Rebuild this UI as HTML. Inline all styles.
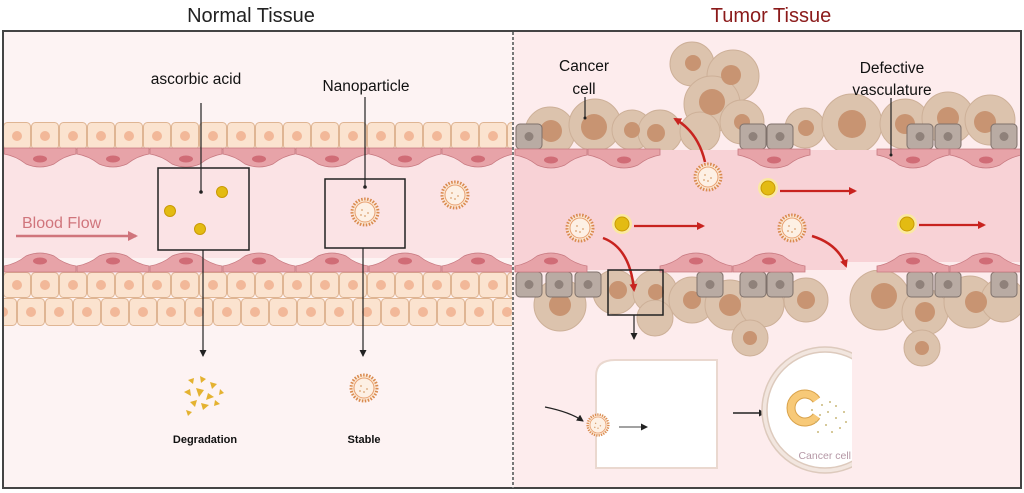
<!DOCTYPE html>
<html><head><meta charset="utf-8"><style>
html,body{margin:0;padding:0;background:#fff;}
svg{display:block;font-family:"Liberation Sans",sans-serif;}
</style></head><body>
<svg width="1024" height="493" viewBox="0 0 1024 493" xmlns="http://www.w3.org/2000/svg">
<defs>
<pattern id="cellA" x="3" y="122" width="28" height="28" patternUnits="userSpaceOnUse">
<rect x="0.5" y="0.5" width="27" height="27" rx="4" fill="#fbe3cf" stroke="#dfb593" stroke-width="1"/>
<circle cx="14" cy="14" r="5" fill="#f2b899"/></pattern>
<pattern id="cellB" x="-11" y="298" width="28" height="28" patternUnits="userSpaceOnUse">
<rect x="0.5" y="0.5" width="27" height="27" rx="4" fill="#fbe3cf" stroke="#dfb593" stroke-width="1"/>
<circle cx="14" cy="14" r="5" fill="#f2b899"/></pattern>
<pattern id="cellC" x="3" y="272" width="28" height="26" patternUnits="userSpaceOnUse">
<rect x="0.5" y="0.5" width="27" height="25" rx="4" fill="#fbe3cf" stroke="#dfb593" stroke-width="1"/>
<circle cx="14" cy="13" r="5" fill="#f2b899"/></pattern>
<g id="endoT"><path d="M0 0 H72 V6 Q60 8 50 16 Q36 22 22 16 Q12 8 0 6 Z" fill="#e7a3a8" stroke="#c77980" stroke-width="0.8"/><ellipse cx="36" cy="11" rx="7" ry="3.5" fill="#d06c76"/></g>
<g id="endoB"><path d="M0 20 H72 V14 Q60 12 50 4 Q36 -2 22 4 Q12 12 0 14 Z" fill="#e7a3a8" stroke="#c77980" stroke-width="0.8"/><ellipse cx="36" cy="9" rx="7" ry="3.5" fill="#d06c76"/></g>
<g id="np"><circle r="13" fill="#fbe6d2" stroke="#d98a4e" stroke-width="3" stroke-dasharray="1.5 1.5"/><circle r="10" fill="#fdf0e4" stroke="#e8a070" stroke-width="1"/><circle cx="-3" cy="-2" r="0.9" fill="#d9a070"/><circle cx="3" cy="1" r="0.9" fill="#d9a070"/><circle cx="0" cy="4" r="0.9" fill="#d9a070"/><circle cx="-4" cy="3" r="0.9" fill="#d9a070"/></g>
<g id="yb"><circle r="10" fill="#fbe9a0"/><circle r="7" fill="#e3bb12" stroke="#c99a06"/></g>
<g id="gc"><rect x="0" y="0" width="26" height="25" rx="4" fill="#b9aba3" stroke="#7e716b"/><circle cx="13" cy="12.5" r="4.5" fill="#8f817a"/></g>
<marker id="ra" markerWidth="8" markerHeight="8" refX="6" refY="4" orient="auto" markerUnits="userSpaceOnUse"><path d="M0 0 L8 4 L0 8 Z" fill="#c8231f"/></marker>
<marker id="ka" markerWidth="7" markerHeight="7" refX="6" refY="3.5" orient="auto" markerUnits="userSpaceOnUse"><path d="M0 0 L7 3.5 L0 7 Z" fill="#222"/></marker>
<marker id="pa" markerWidth="10" markerHeight="10" refX="8" refY="5" orient="auto" markerUnits="userSpaceOnUse"><path d="M0 0 L10 5 L0 10 Z" fill="#d0757c"/></marker>
<clipPath id="rc"><rect x="514" y="32" width="506" height="456"/></clipPath>
<clipPath id="lc"><rect x="4" y="32" width="508" height="456"/></clipPath>
<clipPath id="ic"><rect x="740" y="340" width="112" height="140"/></clipPath>
</defs>

<text x="251" y="22" font-size="20" text-anchor="middle" fill="#222">Normal Tissue</text>
<text x="771" y="22" font-size="20" text-anchor="middle" fill="#8b1a1a">Tumor Tissue</text>

<rect x="3" y="31" width="1018" height="457" fill="#fdf3f3" stroke="#444" stroke-width="2"/>
<rect x="514" y="32" width="506" height="455" fill="#fdeced"/>

<g clip-path="url(#lc)">
<rect x="4" y="150" width="508" height="108" fill="#fbe3e5"/>
<rect x="3" y="122" width="510" height="28" fill="url(#cellA)"/>
<rect x="3" y="272" width="510" height="26" fill="url(#cellC)"/>
<rect x="3" y="298" width="510" height="28" fill="url(#cellB)"/>
<use href="#endoT" x="4" y="148"/><use href="#endoT" x="77" y="148"/><use href="#endoT" x="150" y="148"/><use href="#endoT" x="223" y="148"/><use href="#endoT" x="296" y="148"/><use href="#endoT" x="369" y="148"/><use href="#endoT" x="442" y="148"/>
<use href="#endoB" x="4" y="252"/><use href="#endoB" x="77" y="252"/><use href="#endoB" x="150" y="252"/><use href="#endoB" x="223" y="252"/><use href="#endoB" x="296" y="252"/><use href="#endoB" x="369" y="252"/><use href="#endoB" x="442" y="252"/>
</g>
<text x="22" y="228" font-size="16" fill="#d0757c">Blood Flow</text>
<line x1="16" y1="236" x2="136" y2="236" stroke="#d0757c" stroke-width="2.5" marker-end="url(#pa)"/>

<rect x="158" y="168" width="91" height="82" fill="none" stroke="#222" stroke-width="1.5"/>
<rect x="325" y="179" width="80" height="69" fill="none" stroke="#222" stroke-width="1.5"/>
<circle cx="170" cy="211" r="5.5" fill="#e3bb12" stroke="#c99a06"/>
<circle cx="222" cy="192" r="5.5" fill="#e3bb12" stroke="#c99a06"/>
<circle cx="200" cy="229" r="5.5" fill="#e3bb12" stroke="#c99a06"/>
<use href="#np" x="365" y="212"/><use href="#np" x="455" y="195"/>

<text x="196" y="84" font-size="15.5" text-anchor="middle" fill="#111">ascorbic acid</text>
<text x="366" y="91" font-size="15.5" text-anchor="middle" fill="#111">Nanoparticle</text>
<line x1="201" y1="103" x2="201" y2="192" stroke="#222" stroke-width="1.2"/><circle cx="201" cy="192" r="1.8" fill="#222"/>
<line x1="365" y1="97" x2="365" y2="187" stroke="#222" stroke-width="1.2"/><circle cx="365" cy="187" r="1.8" fill="#222"/>
<line x1="203" y1="250" x2="203" y2="356" stroke="#222" stroke-width="1.2" marker-end="url(#ka)"/>
<line x1="363" y1="248" x2="363" y2="356" stroke="#222" stroke-width="1.2" marker-end="url(#ka)"/>

<g fill="#e4b230">
<polygon points="188,380 194,378 193,384"/><polygon points="200,376 206,379 201,383"/><polygon points="210,382 217,384 212,389"/>
<polygon points="184,392 190,389 191,396"/><polygon points="196,388 204,390 199,397"/><polygon points="208,393 214,397 206,400"/>
<polygon points="190,402 197,400 195,407"/><polygon points="201,403 209,405 203,410"/><polygon points="215,400 220,404 214,406"/>
<polygon points="186,410 192,412 188,416"/><polygon points="220,389 224,393 219,395"/>
</g>
<use href="#np" x="364" y="388"/>
<text x="205" y="443" font-size="11" text-anchor="middle" fill="#111" font-weight="bold">Degradation</text>
<text x="364" y="443" font-size="11" text-anchor="middle" fill="#111" font-weight="bold">Stable</text>

<line x1="513" y1="32" x2="513" y2="488" stroke="#777" stroke-width="2" stroke-dasharray="3 2"/>

<g clip-path="url(#rc)">
<g fill="#dcc3ad" stroke="#cdb098" stroke-width="1">
<circle cx="550" cy="132" r="25"/><circle cx="595" cy="125" r="26"/><circle cx="632" cy="130" r="20"/><circle cx="660" cy="132" r="22"/>
<circle cx="692" cy="64" r="22"/><circle cx="733" cy="76" r="26"/><circle cx="712" cy="104" r="28"/><circle cx="742" cy="122" r="22"/><circle cx="700" cy="132" r="20"/>
<circle cx="805" cy="128" r="20"/><circle cx="852" cy="124" r="30"/><circle cx="905" cy="124" r="25"/><circle cx="948" cy="118" r="26"/><circle cx="990" cy="120" r="25"/>
<circle cx="560" cy="305" r="26"/><circle cx="615" cy="292" r="22"/><circle cx="655" cy="292" r="22"/><circle cx="692" cy="300" r="23"/><circle cx="730" cy="305" r="25"/><circle cx="762" cy="305" r="22"/><circle cx="806" cy="300" r="22"/><circle cx="750" cy="338" r="18"/><circle cx="655" cy="318" r="18"/>
<circle cx="880" cy="300" r="30"/><circle cx="925" cy="312" r="23"/><circle cx="970" cy="302" r="26"/><circle cx="1003" cy="300" r="22"/><circle cx="922" cy="348" r="18"/>
</g>
<g fill="#c89472">
<circle cx="551" cy="131" r="11"/><circle cx="594" cy="127" r="13"/><circle cx="632" cy="130" r="8"/><circle cx="656" cy="133" r="9"/>
<circle cx="693" cy="63" r="8"/><circle cx="731" cy="75" r="10"/><circle cx="712" cy="102" r="13"/><circle cx="742" cy="122" r="8"/>
<circle cx="806" cy="128" r="8"/><circle cx="852" cy="124" r="14"/><circle cx="905" cy="124" r="10"/><circle cx="948" cy="118" r="11"/><circle cx="985" cy="122" r="11"/>
<circle cx="560" cy="305" r="11"/><circle cx="618" cy="290" r="9"/><circle cx="656" cy="292" r="8"/><circle cx="692" cy="300" r="9"/><circle cx="730" cy="305" r="11"/><circle cx="806" cy="300" r="9"/><circle cx="750" cy="338" r="7"/>
<circle cx="884" cy="296" r="13"/><circle cx="925" cy="312" r="10"/><circle cx="976" cy="302" r="11"/><circle cx="922" cy="348" r="7"/>
</g>
<rect x="514" y="150" width="508" height="120" fill="#f8d2d6"/>
<rect x="846" y="262" width="176" height="8" fill="#fdeced"/>
<use href="#gc" x="516" y="124"/><use href="#gc" x="740" y="124"/><use href="#gc" x="767" y="124"/><use href="#gc" x="907" y="124"/><use href="#gc" x="935" y="124"/><use href="#gc" x="991" y="124"/>
<use href="#gc" x="516" y="272"/><use href="#gc" x="546" y="272"/><use href="#gc" x="575" y="272"/><use href="#gc" x="697" y="272"/><use href="#gc" x="740" y="272"/><use href="#gc" x="767" y="272"/><use href="#gc" x="907" y="272"/><use href="#gc" x="935" y="272"/><use href="#gc" x="991" y="272"/>
<use href="#endoT" x="515" y="149"/><use href="#endoT" x="588" y="149"/><use href="#endoT" x="738" y="149"/><use href="#endoT" x="877" y="149"/><use href="#endoT" x="950" y="149"/>
<use href="#endoB" x="515" y="252"/><use href="#endoB" x="660" y="252"/><use href="#endoB" x="733" y="252"/><use href="#endoB" x="877" y="252"/><use href="#endoB" x="950" y="252"/>
</g>

<use href="#np" x="708" y="177"/><use href="#np" x="580" y="228"/><use href="#np" x="792" y="228"/>
<use href="#yb" x="768" y="188"/><use href="#yb" x="622" y="224"/><use href="#yb" x="907" y="224"/>
<line x1="780" y1="191" x2="855" y2="191" stroke="#c8231f" stroke-width="2.2" marker-end="url(#ra)"/>
<line x1="634" y1="226" x2="703" y2="226" stroke="#c8231f" stroke-width="2.2" marker-end="url(#ra)"/>
<line x1="919" y1="225" x2="984" y2="225" stroke="#c8231f" stroke-width="2.2" marker-end="url(#ra)"/>
<path d="M705 162 Q698 132 675 119" fill="none" stroke="#c8231f" stroke-width="2.5" marker-end="url(#ra)"/>
<path d="M603 238 Q630 248 634 290" fill="none" stroke="#c8231f" stroke-width="2.5" marker-end="url(#ra)"/>
<path d="M812 236 Q838 244 846 266" fill="none" stroke="#c8231f" stroke-width="2.5" marker-end="url(#ra)"/>
<rect x="608" y="270" width="55" height="45" fill="none" stroke="#222" stroke-width="1.5"/>
<line x1="634" y1="315" x2="634" y2="339" stroke="#222" stroke-width="1.2" marker-end="url(#ka)"/>

<text x="584" y="71" font-size="15.5" text-anchor="middle" fill="#111">Cancer</text>
<text x="584" y="94" font-size="15.5" text-anchor="middle" fill="#111">cell</text>
<line x1="585" y1="97" x2="585" y2="118" stroke="#222" stroke-width="1.2"/><circle cx="585" cy="118" r="1.5" fill="#222"/>
<text x="892" y="73" font-size="15.5" text-anchor="middle" fill="#111">Defective</text>
<text x="892" y="95" font-size="15.5" text-anchor="middle" fill="#111">vasculature</text>
<line x1="891" y1="98" x2="891" y2="155" stroke="#222" stroke-width="1.2"/><circle cx="891" cy="155" r="1.5" fill="#222"/>

<path d="M615 360 H717 V468 H596 V437 Q596 428 604 424 Q596 420 596 412 V376 Q596 360 615 360 Z" fill="#fff" stroke="#ead8cf" stroke-width="2"/>
<path d="M545 407 Q570 412 583 421" fill="none" stroke="#222" stroke-width="1.2" marker-end="url(#ka)"/>
<use href="#np" x="598" y="425" transform="translate(598 425) scale(0.8) translate(-598 -425)"/>
<line x1="619" y1="427" x2="647" y2="427" stroke="#444" stroke-width="1" marker-end="url(#ka)"/>
<line x1="733" y1="413" x2="765" y2="413" stroke="#222" stroke-width="1.5" marker-end="url(#ka)"/>
<g clip-path="url(#ic)">
<circle cx="825" cy="410" r="63" fill="#f2e6df" stroke="#ddcabd" stroke-width="1.5"/>
<circle cx="825" cy="410" r="58" fill="#fff" stroke="#ddcabd" stroke-width="1.5"/>
<path d="M816.5 416 A14 14 0 1 1 816.5 400" fill="none" stroke="#d9a24a" stroke-width="9"/>
<path d="M816.5 416 A14 14 0 1 1 816.5 400" fill="none" stroke="#f7c978" stroke-width="7"/>
<g fill="#c9b87a"><circle cx="812" cy="410" r="1"/><circle cx="820" cy="415" r="1"/><circle cx="828" cy="412" r="1"/><circle cx="836" cy="418" r="1"/><circle cx="816" cy="422" r="1"/><circle cx="826" cy="425" r="1"/><circle cx="840" cy="428" r="1"/><circle cx="832" cy="432" r="1"/><circle cx="844" cy="412" r="1"/><circle cx="822" cy="405" r="1"/><circle cx="830" cy="402" r="1"/><circle cx="818" cy="432" r="1"/><circle cx="836" cy="406" r="1"/><circle cx="846" cy="422" r="1"/></g>
<text x="851" y="459" font-size="10.5" text-anchor="end" fill="#b597a5">Cancer cell</text>
</g>
</svg>
</body></html>
